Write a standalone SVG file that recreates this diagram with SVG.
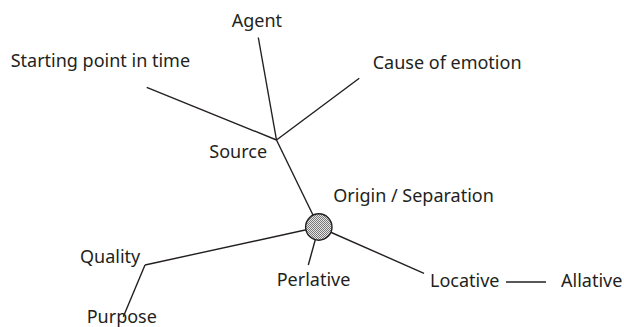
<svg xmlns="http://www.w3.org/2000/svg" width="624" height="327" viewBox="0 0 624 327">
<style>
text{font-family:"Noto Sans","Open Sans","DejaVu Sans",sans-serif;font-size:18px;fill:#231f20}
.ln{stroke:#231f20;stroke-width:1.4;fill:none;stroke-linecap:butt}
</style>
<defs>
<pattern id="hatch" width="2" height="2" patternUnits="userSpaceOnUse">
<rect width="2" height="2" fill="#e6e6e6"/>
<rect width="1" height="1" fill="#777"/>
<rect x="1" y="1" width="1" height="1" fill="#777"/>
</pattern>
</defs>
<rect width="624" height="327" fill="#fff"/>
<g id="connectors">
<line class="ln" x1="258.3" y1="37.5" x2="276.5" y2="140"/>
<line class="ln" x1="146.7" y1="87.3" x2="276.5" y2="140"/>
<line class="ln" x1="359.3" y1="78.3" x2="276.5" y2="140"/>
<line class="ln" x1="276.5" y1="140" x2="318.8" y2="227"/>
<line class="ln" x1="145" y1="265" x2="318.8" y2="227"/>
<line class="ln" x1="145" y1="265" x2="123.3" y2="316.7"/>
<line class="ln" x1="318.8" y1="227" x2="308.3" y2="265"/>
<line class="ln" x1="318.8" y1="227" x2="424" y2="273.3"/>
<line class="ln" x1="506" y1="282" x2="546" y2="282"/>
</g>
<g id="origin-node">
<circle cx="318.8" cy="227" r="13.2" fill="url(#hatch)" stroke="#231f20" stroke-width="1.4"/>
<text x="333.3" y="201.7">Origin / Separation</text>
</g>
<g id="source"><text x="209.3" y="158.3">Source</text></g>
<g id="agent"><text x="231.7" y="27.3">Agent</text></g>
<g id="starting-point"><text x="10.7" y="66.7">Starting point in time</text></g>
<g id="cause-of-emotion"><text x="372.7" y="69.3">Cause of emotion</text></g>
<g id="quality"><text x="80" y="262.7">Quality</text></g>
<g id="purpose"><text x="86.7" y="323.3">Purpose</text></g>
<g id="perlative"><text x="276.7" y="285.5">Perlative</text></g>
<g id="locative"><text x="430" y="286.7">Locative</text></g>
<g id="allative"><text x="561" y="286.7">Allative</text></g>
</svg>
